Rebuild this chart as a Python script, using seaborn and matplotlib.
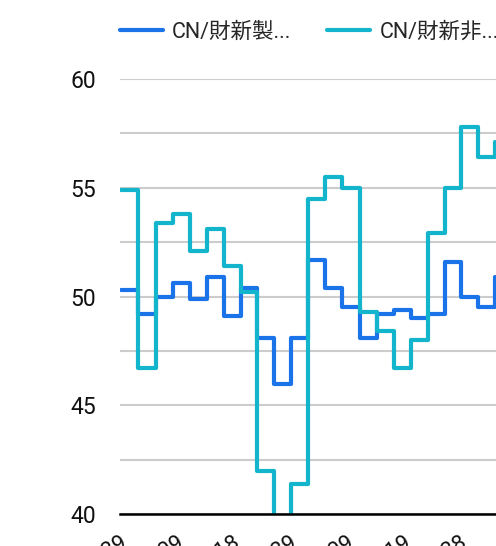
import matplotlib
matplotlib.use('Agg')
import matplotlib.pyplot as plt
import seaborn as sns
import pandas as pd
import numpy as np
from matplotlib.lines import Line2D

# ---- data ----
months = pd.date_range('2021-07-01', '2023-05-01', freq='MS')
mfg = [50.3, 49.2, 50.0, 50.6, 49.9, 50.9, 49.1, 50.4, 48.1, 46.0, 48.1, 51.7,
       50.4, 49.5, 48.1, 49.2, 49.4, 49.0, 49.2, 51.6, 50.0, 49.5, 50.9]
svc = [54.9, 46.7, 53.4, 53.8, 52.1, 53.1, 51.4, 50.2, 42.0, 36.2, 41.4, 54.5,
       55.5, 55.0, 49.3, 48.4, 46.7, 48.0, 52.9, 55.0, 57.8, 56.4, 57.1]
series_names = ['CN/財新製...', 'CN/財新非...']
colors = ['#1a73e8', '#12b5cb']
y_ticks = [40, 42.5, 45, 47.5, 50, 52.5, 55, 57.5, 60]
y_labels = ['40', '', '45', '', '50', '', '55', '', '60']
tick_dates = pd.to_datetime(['2021-06-29', '2021-10-09', '2022-01-18', '2022-04-29',
                             '2022-08-09', '2022-11-19', '2023-02-28'])
x_start = pd.Timestamp('2021-07-01')
x_end = pd.Timestamp('2023-06-01')

sns.set_theme(style='white')
fam = ['Roboto', 'Noto Sans CJK JP', 'DejaVu Sans']
plt.rcParams['font.family'] = fam

df = pd.DataFrame({
    'date': np.concatenate([months.values, months.values]),
    'value': mfg + svc,
    'series': np.repeat(series_names, len(months)),
})

W, H = 496, 546
fig = plt.figure(figsize=(W / 100, H / 100), dpi=100)
px_per_day = 0.5605
width_px = (x_end - x_start).days * px_per_day
ax = fig.add_axes([120 / W, 32 / H, width_px / W, 435 / H])

sns.lineplot(data=df, x='date', y='value', hue='series', hue_order=series_names,
             palette=dict(zip(series_names, colors)), drawstyle='steps-post',
             linewidth=3, ax=ax, legend=False)

ax.set_xlim(x_start, x_end)
ax.set_ylim(40, 60)
ax.set_yticks(y_ticks)
ax.set_yticklabels(y_labels)
ax.set_xticks(tick_dates)
ax.set_xticklabels([d.strftime('%Y-%m-%d') for d in tick_dates], rotation=30,
                   ha='right', rotation_mode='anchor')
ax.tick_params(axis='y', length=0, pad=17, labelsize=16.5, labelcolor='#111111')
ax.tick_params(axis='x', length=0, pad=13, labelsize=16, labelcolor='#111111')
ax.set_xlabel('')
ax.set_ylabel('')
ax.grid(axis='y', color='#cccccc', linewidth=1.5)
ax.grid(axis='x', visible=False)
for s in ['top', 'right', 'left']:
    ax.spines[s].set_visible(False)
ax.spines['bottom'].set_color('black')
ax.spines['bottom'].set_linewidth(1.8)

handles = [Line2D([], [], color=c, linewidth=3) for c in colors]
fig.legend(handles, series_names, loc='center left',
           bbox_to_anchor=(120 / W, 1 - 32 / H), ncol=2, frameon=False,
           handlelength=2.0, handletextpad=0.42, columnspacing=1.67,
           borderpad=0, borderaxespad=0,
           prop={'family': fam, 'size': 15.5})

fig.savefig('out.png', dpi=100)
